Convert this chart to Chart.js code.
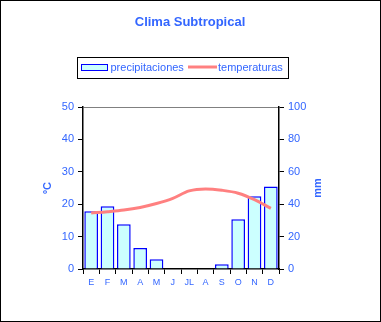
<!DOCTYPE html>
<html>
<head>
<meta charset="utf-8">
<script src="https://cdn.jsdelivr.net/npm/chart.js@4"></script>
<style>
  html, body { margin:0; padding:0; background:#fff; }
  #wrap { width:381px; height:322px; position:relative; }
</style>
</head>
<body>
<div id="wrap"><canvas id="clima" width="381" height="322"></canvas></div>
<script>
const meses = ["E","F","M","A","M","J","JL","A","S","O","N","D"];
const precipitaciones = [35.6, 38.7, 27.6, 13, 6, 0, 0, 0, 2.9, 30.7, 44.9, 51];
const temperaturas = [17.3, 17.7, 18.2, 19.0, 20.2, 21.8, 24.1, 24.7, 24.3, 23.4, 21.4, 18.7];

const AZUL = "#3366FF";
const FONT = "Arial, 'Liberation Sans', sans-serif";

// marco, titulo, leyenda y titulos de ejes
const decor = {
  id: "decor",
  afterDraw(chart){
    const c = chart.ctx;
    c.save();
    c.strokeStyle = "#000"; c.lineWidth = 1;
    c.strokeRect(0.5, 0.5, 380, 321);

    c.fillStyle = AZUL;
    c.font = "bold 13px " + FONT;
    c.textAlign = "center"; c.textBaseline = "middle";
    c.fillText("Clima Subtropical", 190, 22);

    // leyenda
    c.strokeRect(77.5, 57.5, 211, 21);
    c.fillStyle = "#CCFFFF";
    c.fillRect(81.5, 64.5, 26, 6);
    c.strokeStyle = "#0000FF";
    c.strokeRect(81.5, 64.5, 26, 6);
    c.strokeStyle = "#FF8080"; c.lineWidth = 3;
    c.beginPath(); c.moveTo(188, 67); c.lineTo(217, 67); c.stroke();
    c.fillStyle = AZUL;
    c.font = "11px " + FONT;
    c.textAlign = "left";
    c.fillText("precipitaciones", 110.5, 68);
    c.fillText("temperaturas", 218, 68);

    c.font = "bold 11px " + FONT;
    c.textAlign = "center";
    c.save(); c.translate(48, 188); c.rotate(-Math.PI/2); c.fillText("ºC", 0, 0); c.restore();
    c.save(); c.translate(318, 188); c.rotate(-Math.PI/2); c.fillText("mm", 0, 0); c.restore();
    c.restore();
  }
};

new Chart(document.getElementById("clima"), {
  data: {
    labels: meses,
    datasets: [
      {
        type: "line", label: "temperaturas", data: temperaturas, yAxisID: "yT",
        borderColor: "#FF8080", borderWidth: 3, pointRadius: 0, tension: 0.4,
        cubicInterpolationMode: "monotone", order: 0
      },
      {
        type: "bar", label: "precipitaciones", data: precipitaciones, yAxisID: "yP",
        backgroundColor: "#CCFFFF", borderColor: "#0000FF", borderWidth: 1.5,
        barPercentage: 0.84, categoryPercentage: 1, order: 1
      }
    ]
  },
  options: {
    responsive: false,
    animation: false,
    layout: { padding: { top: 107, left: 0, right: 0, bottom: 0 } },
    plugins: { legend: { display:false }, title: { display:false }, tooltip: { enabled:false } },
    scales: {
      x: {
        offset: true,
        grid: { offset: true, drawOnChartArea: false, tickLength: 5, tickColor: "#000" },
        border: { color: "#000", width: 1.5 },
        ticks: { color: AZUL, font: { family: FONT, size: 9 }, padding: 3, maxRotation: 0, autoSkip: false },
        afterFit(s){ s.height = 53; }
      },
      yT: {
        position: "left", min: 0, max: 50,
        grid: {
          color: ctx => ctx.tick && ctx.tick.value === 50 ? "#808080" : "rgba(0,0,0,0)",
          tickColor: "#000", tickLength: 5
        },
        border: { color: "#000", width: 1.5 },
        ticks: { stepSize: 10, color: AZUL, font: { family: FONT, size: 11 }, padding: 4 },
        afterFit(s){ s.width = 83; }
      },
      yP: {
        position: "right", min: 0, max: 100,
        grid: { drawOnChartArea: false, tickColor: "#000", tickLength: 5 },
        border: { color: "#000", width: 1.5 },
        ticks: { stepSize: 20, color: AZUL, font: { family: FONT, size: 11 }, padding: 4 },
        afterFit(s){ s.width = 102; }
      }
    }
  },
  plugins: [decor]
});
</script>
</body>
</html>
